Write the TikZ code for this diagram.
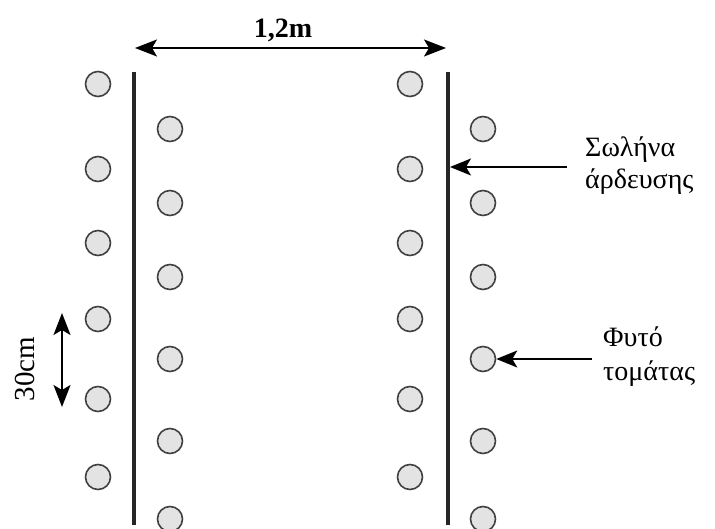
\documentclass[tikz,border=0pt]{standalone}
\usepackage{fontspec}
\setmainfont{Liberation Serif}
\usetikzlibrary{arrows.meta}
\begin{document}
\begin{tikzpicture}[x=1pt,y=-1pt,
  plant/.style={circle,draw=black!75,fill=black!11,line width=1.6pt,minimum size=25pt,inner sep=0pt},
  pipe/.style={line width=3.2pt,draw=black!85},
  dim/.style={line width=2pt,{Stealth[length=22pt,width=17pt,inset=5pt]}-{Stealth[length=22pt,width=17pt,inset=5pt]}},
  pointer/.style={line width=1.8pt,-{Stealth[length=21pt,width=17pt,inset=5pt]}},
  lbl/.style={font=\fontsize{28}{32}\selectfont,anchor=base west,inner sep=0pt}]
\useasboundingbox (0,0) rectangle (715,529);
% irrigation pipes
\coordinate (p1t) at (134,72); \coordinate (p1b) at (134,525);
\coordinate (p2t) at (448,72); \coordinate (p2b) at (448,525);
\draw[pipe] (p1t) -- (p1b);
\draw[pipe] (p2t) -- (p2b);
% plants on both sides of each pipe
\foreach \y [count=\i] in {84,169,243,319,399,477}{
  \node[plant] (a\i) at (98,\y) {};
  \node[plant] (c\i) at (410,\y) {};
}
\foreach \y [count=\i] in {129,203,277,359,441,519}{
  \node[plant] (b\i) at (170,\y) {};
  \node[plant] (d\i) at (483,\y) {};
}
% row spacing dimension
\coordinate (w1) at (135,48); \coordinate (w2) at (446,48);
\draw[dim] (w1) -- (w2);
\node[font=\fontsize{28}{32}\selectfont\bfseries,anchor=base,inner sep=0pt] (wl) at (283,38) {1,2m};
% plant spacing dimension
\coordinate (h1) at (62,313); \coordinate (h2) at (62,407);
\draw[dim] (h1) -- (h2);
\node[font=\fontsize{29}{32}\selectfont,rotate=90,inner sep=0pt] (hl) at (25,369) {30cm};
% callouts
\coordinate (s0) at (567,167);
\coordinate (s1) at (450,167);
\draw[pointer] (s0) -- (s1);
\node[lbl] (sl1) at (585,157) {Σωλήνα};
\node[lbl] (sl2) at (585,189) {άρδευσης};
\coordinate (f0) at (592,359);
\draw[pointer] (f0) -- (d4.east);
\node[lbl] (fl1) at (603,347) {Φυτό};
\node[lbl] (fl2) at (603,380) {τομάτας};
\end{tikzpicture}
\end{document}
